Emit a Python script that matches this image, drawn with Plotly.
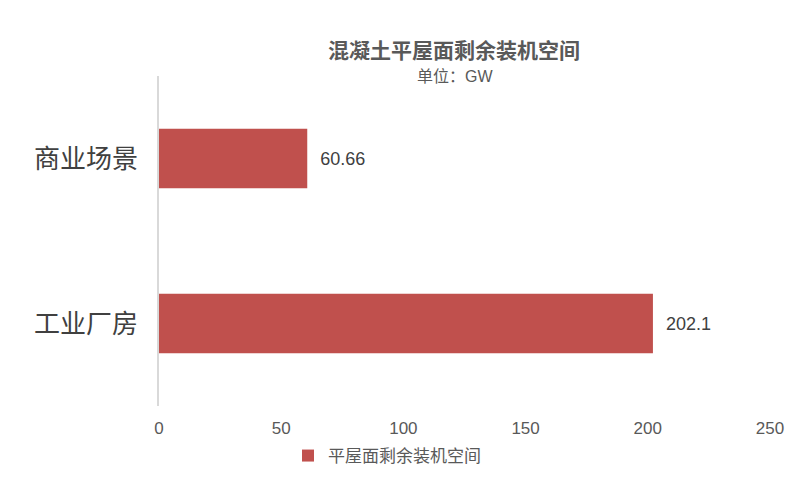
import plotly.graph_objects as go

categories = ["商业场景", "工业厂房"]
values = [60.66, 202.1]
value_labels = ["60.66", "202.1"]
series_name = "平屋面剩余装机空间"
x_ticks = [0, 50, 100, 150, 200, 250]

FONT = "Liberation Sans, Arial, Noto Sans CJK SC, sans-serif"
CJK = "Noto Sans CJK SC, sans-serif"

L, R, T, B = 159, 29, 76, 89
PW, PH = 799 - L - R, 495 - T - B

fig = go.Figure()
fig.add_trace(go.Bar(
    y=categories, x=values, orientation="h", name=series_name,
    marker=dict(color="#C0504D", line=dict(width=0)),
    width=0.36,
    text=value_labels, texttemplate="  %{text}", textposition="outside",
    textfont=dict(size=18, color="#404040", family=FONT),
    cliponaxis=False, showlegend=True,
))

fig.update_layout(
    width=799, height=495,
    margin=dict(l=L, r=R, t=T, b=B, autoexpand=False),
    paper_bgcolor="white", plot_bgcolor="white",
    font=dict(family=FONT, color="#595959"),
    showlegend=True,
    legend=dict(orientation="h", x=(288 - L) / PW, xanchor="left",
                y=-(438 - (T + PH)) / PH, yanchor="top",
                font=dict(size=17, color="#595959", family=CJK),
                itemwidth=30, tracegroupgap=0),
    annotations=[
        dict(text="<b>混凝土平屋面剩余装机空间</b>", xref="paper", yref="paper",
             x=(454 - L) / PW, y=1 + (T - 49) / PH, xanchor="center", yanchor="middle",
             showarrow=False, font=dict(size=21, color="#595959", family=CJK)),
        dict(text="单位：GW", xref="paper", yref="paper",
             x=(455 - L) / PW, y=1 + (T - 76) / PH, xanchor="center", yanchor="middle",
             showarrow=False, font=dict(size=16, color="#595959", family=FONT)),
    ],
)
fig.update_xaxes(range=[0, 250], tickvals=x_ticks, showgrid=False, zeroline=False,
                 showline=False, ticks="", ticklabelstandoff=10, automargin=False,
                 tickfont=dict(size=17, color="#595959", family=FONT))
fig.update_yaxes(autorange="reversed", showgrid=False, zeroline=False,
                 showline=True, linecolor="#D9D9D9", linewidth=1.5,
                 ticks="", ticklabelstandoff=14, automargin=False,
                 tickfont=dict(size=26, color="#404040", family=CJK))

fig.write_html("out.html", config={"displayModeBar": False},
               post_script="document.body.style.margin='0';")
